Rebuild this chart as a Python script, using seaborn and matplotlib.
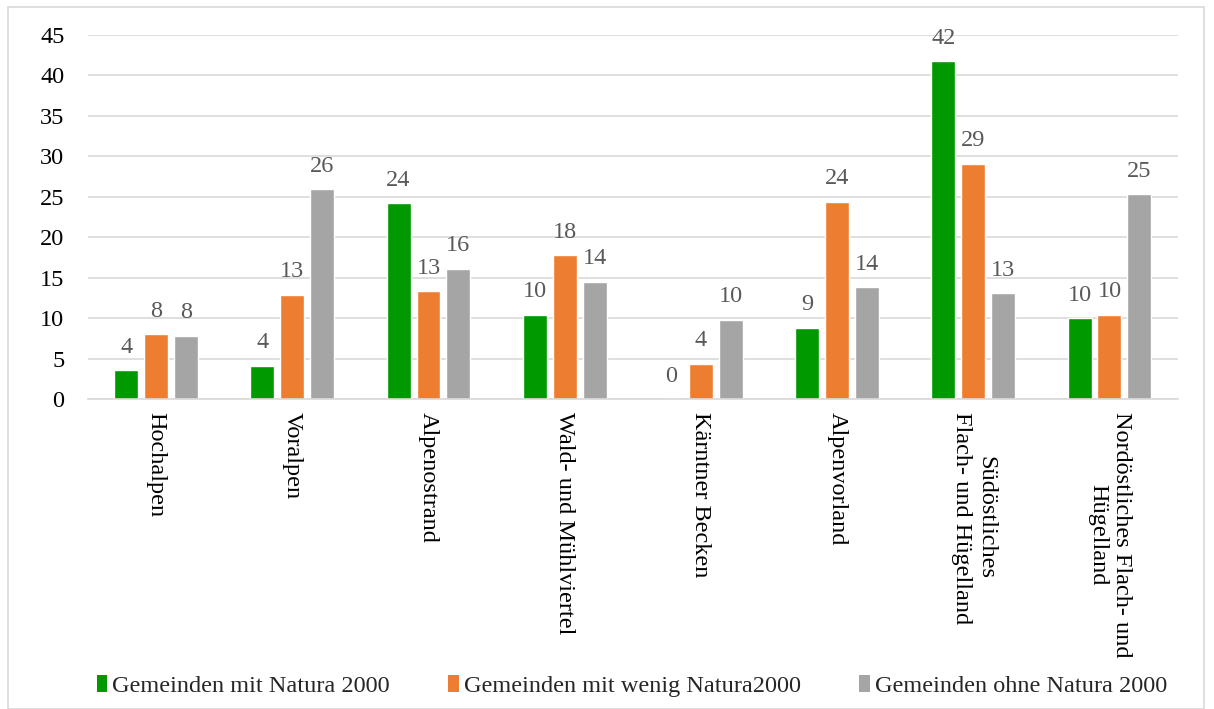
import numpy as np
import pandas as pd
import matplotlib.pyplot as plt
import seaborn as sns
from matplotlib.patches import Patch, Rectangle

regions = ['Hochalpen', 'Voralpen', 'Alpenostrand', 'Wald- und Mühlviertel',
           'Kärntner Becken', 'Alpenvorland', 'Südöstliches\nFlach- und Hügelland',
           'Nordöstliches Flach- und\nHügelland']
mit_natura = [3.6, 4.1, 24.2, 10.4, 0.0, 8.8, 41.7, 10.0]
wenig_natura = [8.0, 12.9, 13.3, 17.8, 4.4, 24.4, 29.1, 10.4]
ohne_natura = [7.8, 25.9, 16.1, 14.5, 9.8, 13.8, 13.1, 25.3]
series_names = ['Gemeinden mit Natura 2000', 'Gemeinden mit wenig Natura2000',
                'Gemeinden ohne Natura 2000']
colors = ['#009900', '#ED7D31', '#A5A5A5']

df = pd.DataFrame({
    'region': regions * 3,
    'wert': mit_natura + wenig_natura + ohne_natura,
    'gruppe': [series_names[0]] * 8 + [series_names[1]] * 8 + [series_names[2]] * 8,
})

sns.set_style('white')
plt.rcParams['font.family'] = ['Liberation Serif', 'DejaVu Serif']

fig = plt.figure(figsize=(12.14, 7.09), dpi=100)
ax = fig.add_axes([0.0725, 0.437, 0.8975, 0.514])

sns.barplot(data=df, x='region', y='wert', hue='gruppe', palette=colors,
            width=0.66, gap=0.2, saturation=1, legend=False, ax=ax)

for cont in ax.containers:
    ax.bar_label(cont, fmt='%.0f', padding=9, fontsize=17.5, color='#595959')

ax.set_ylim(0, 45)
ax.set_yticks(np.arange(0, 46, 5))
ax.set_xlim(-0.5, 7.5)
ax.yaxis.grid(True, color='#d9d9d9', lw=1.2)
ax.set_axisbelow(True)
for s in ['top', 'right', 'left']:
    ax.spines[s].set_visible(False)
ax.spines['bottom'].set_color('#d9d9d9')
ax.spines['bottom'].set_linewidth(1.2)
ax.tick_params(axis='both', length=0, labelsize=17.5, colors='black')
ax.tick_params(axis='y', pad=17)
ax.tick_params(axis='x', pad=9)
ax.set_xlabel('')
ax.set_ylabel('')
for lbl in ax.get_xticklabels():
    lbl.set_rotation(270)
    lbl.set_ha('center')
    lbl.set_va('top')
    lbl.set_multialignment('center')

handles = [Patch(facecolor=c, edgecolor='none') for c in colors]
fig.legend(handles, series_names, loc='center', bbox_to_anchor=(0.5206, 1 - 686 / 709),
           ncol=3, frameon=False, fontsize=17.5, handlelength=0.45, handleheight=0.7,
           handletextpad=0.2, columnspacing=2.4)

fig.patches.append(Rectangle((8 / 1214, 0), 1196 / 1214, 702 / 709, transform=fig.transFigure,
                             fill=False, edgecolor='#d9d9d9', lw=1.2))

fig.savefig('out.png', dpi=100)
